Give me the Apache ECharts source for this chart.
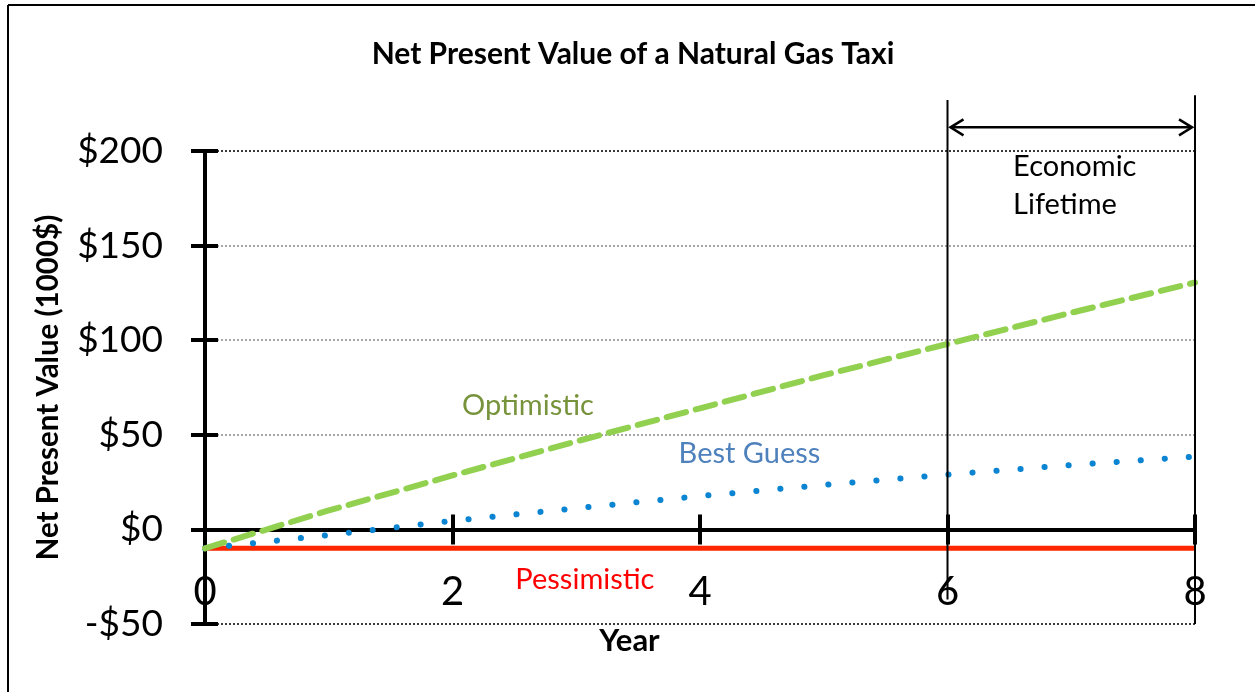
<!DOCTYPE html>
<html>
<head>
<meta charset="utf-8">
<title>Net Present Value of a Natural Gas Taxi</title>
<script src="https://cdn.jsdelivr.net/npm/echarts@6/dist/echarts.min.js"></script>
<style>
  html, body { margin: 0; padding: 0; background: #fff; }
  #chart { width: 1255px; height: 692px; }
</style>
</head>
<body>
<div id="chart"></div>
<script>
// NPV in thousand dollars, one point per year
var years = [0, 1, 2, 3, 4, 5, 6, 7, 8];
var optimistic = [-10, 10, 28.5, 46.5, 64, 81.5, 98, 114.5, 130.5];
var bestGuess = [-10, -3, 4.5, 11.2, 17.6, 23.5, 29, 34, 38.5];
var pessimistic = [-10, -10, -10, -10, -10, -10, -10, -10, -10];

// axis ticks
var yTicks = [-50, 0, 50, 100, 150, 200];
var xTicks = [0, 2, 4, 6, 8];

// economic lifetime bracket, in years
var lifetime = [6, 8];

var FONT = 'Lato';

function pairs(vals) {
  return years.map(function (y, i) { return [y, vals[i]]; });
}

function money(v) {
  return v < 0 ? '-$' + (-v) : '$' + v;
}

var chart = echarts.init(document.getElementById('chart'));

var yStep = yTicks[1] - yTicks[0];
var xStep = xTicks[1] - xTicks[0];

// split line colours: bottom and top edges darker
var splitColors = yTicks.map(function (v, i) {
  if (i === 0 || i === yTicks.length - 1) return '#3a3a3a';
  return '#a6a6a6';
});

var baseX = {
  type: 'value',
  min: xTicks[0],
  max: xTicks[xTicks.length - 1],
  interval: xStep,
  position: 'bottom',
  splitLine: { show: false }
};
var baseY = {
  type: 'value',
  min: yTicks[0],
  max: yTicks[yTicks.length - 1],
  interval: yStep,
  position: 'left'
};

chart.setOption({
  animation: false,
  title: {
    text: 'Net Present Value of a Natural Gas Taxi',
    left: 628,
    textAlign: 'center',
    top: 34,
    textStyle: { fontFamily: FONT, fontWeight: 'bold', fontSize: 30, color: '#000' }
  },
  grid: { left: 205, right: 60, top: 151, bottom: 68, containLabel: false, outerBoundsMode: 'none' },
  xAxis: [
    Object.assign({}, baseX, {
      axisLine: { onZero: true, lineStyle: { color: '#000', width: 4 } },
      axisTick: { show: true, inside: false, length: 15, lineStyle: { color: '#000', width: 4 } },
      axisLabel: { margin: -52, fontFamily: FONT, fontSize: 40, color: '#000' }
    }),
    Object.assign({}, baseX, {
      axisLine: { onZero: true, lineStyle: { color: 'rgba(0,0,0,0)', width: 4 } },
      axisTick: { show: true, inside: true, length: 15, lineStyle: { color: '#000', width: 4 } },
      axisLabel: { show: false }
    })
  ],
  yAxis: [
    Object.assign({}, baseY, {
      name: 'Net Present Value (1000$)',
      nameLocation: 'middle',
      nameRotate: 90,
      nameGap: 142,
      nameTextStyle: { fontFamily: FONT, fontWeight: 'bold', fontSize: 29.5, color: '#000' },
      axisLine: { show: true, onZero: false, lineStyle: { color: '#000', width: 4 } },
      axisTick: { show: true, inside: false, length: 14, lineStyle: { color: '#000', width: 4 } },
      axisLabel: { margin: 42, fontFamily: FONT, fontSize: 37, color: '#000', formatter: money },
      splitLine: { show: true, lineStyle: { color: splitColors, width: 2, type: [2, 2] } }
    }),
    Object.assign({}, baseY, {
      axisLine: { show: false },
      axisTick: { show: true, inside: true, length: 13, lineStyle: { color: '#000', width: 4 } },
      axisLabel: { show: false },
      splitLine: { show: false }
    })
  ],
  series: [
    {
      name: 'Pessimistic',
      type: 'line',
      data: pairs(pessimistic),
      showSymbol: false,
      lineStyle: { color: '#ff2600', width: 5 },
      z: 3
    },
    {
      name: 'Best Guess',
      type: 'line',
      data: pairs(bestGuess),
      showSymbol: false,
      lineStyle: { color: '#0b84d2', width: 6, type: [0.1, 24], cap: 'round' },
      z: 3
    },
    {
      name: 'Optimistic',
      type: 'line',
      data: pairs(optimistic),
      showSymbol: false,
      lineStyle: { color: '#92d050', width: 6, type: [20, 10], cap: 'round' },
      z: 3
    }
  ]
});

// annotations placed through the chart's own scales
function px(x, y) { return chart.convertToPixel({ gridIndex: 0 }, [x, y]); }

function label(text, x, y, color, align) {
  var p = px(x, y);
  return {
    type: 'text',
    x: p[0], y: p[1],
    style: {
      text: text, fill: color, fontFamily: FONT, fontSize: 29,
      align: align || 'center', verticalAlign: 'middle', lineHeight: 38
    },
    z: 10
  };
}

function seg(a, b, w) {
  return {
    type: 'line',
    shape: { x1: a[0], y1: a[1], x2: b[0], y2: b[1] },
    style: { stroke: '#000', lineWidth: w || 2 },
    z: 10
  };
}

var graphics = [];
// frame of the picture
graphics.push({ type: 'line', shape: { x1: 8, y1: 5, x2: 1255, y2: 5 }, style: { stroke: '#000', lineWidth: 2 } });
graphics.push({ type: 'line', shape: { x1: 8, y1: 5, x2: 8, y2: 692 }, style: { stroke: '#000', lineWidth: 2 } });

// lifetime markers
graphics.push(seg(px(lifetime[0], 227), px(lifetime[0], -37)));
graphics.push(seg(px(lifetime[1], 229.5), px(lifetime[1], -50)));
var a0 = px(lifetime[0], 212.5), a1 = px(lifetime[1], 212.5);
graphics.push(seg([a0[0] + 3, a0[1]], [a1[0] - 3, a1[1]], 2.5));
graphics.push({
  type: 'polyline',
  shape: { points: [[a0[0] + 16, a0[1] - 8], [a0[0] + 3, a0[1]], [a0[0] + 16, a0[1] + 8]] },
  style: { stroke: '#000', lineWidth: 2.5, fill: null }, z: 10
});
graphics.push({
  type: 'polyline',
  shape: { points: [[a1[0] - 16, a1[1] - 8], [a1[0] - 3, a1[1]], [a1[0] - 16, a1[1] + 8]] },
  style: { stroke: '#000', lineWidth: 2.5, fill: null }, z: 10
});

graphics.push(label('Economic\nLifetime', 6.53, 181.5, '#000', 'left'));
graphics.push(label('Optimistic', 2.61, 65.4, '#77933c'));
graphics.push(label('Best Guess', 4.40, 40.2, '#4f81bd'));
graphics.push(label('Pessimistic', 3.07, -26.6, '#ff0000'));

var yearPos = px(3.43, -50);
graphics.push({
  type: 'text', x: yearPos[0], y: yearPos[1] + 17,
  style: { text: 'Year', fill: '#000', fontFamily: FONT, fontWeight: 'bold', fontSize: 31, align: 'center', verticalAlign: 'middle' },
  z: 10
});

chart.setOption({ graphic: graphics });
</script>
</body>
</html>
